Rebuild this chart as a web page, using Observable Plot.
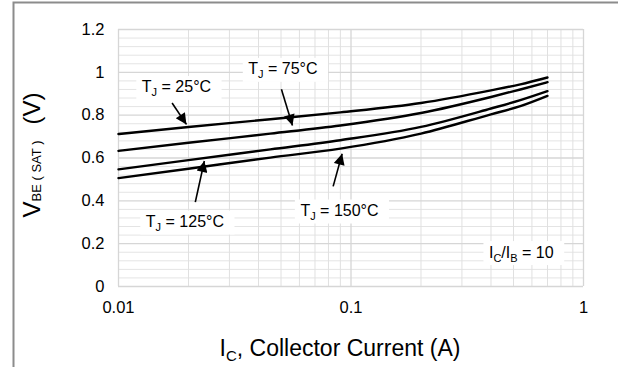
<!DOCTYPE html>
<html><head><meta charset="utf-8">
<script src="https://cdn.jsdelivr.net/npm/d3@7"></script>
<script src="https://cdn.jsdelivr.net/npm/@observablehq/plot@0.6"></script>
<style>
html,body{margin:0;padding:0;background:#fff;}
#chart{position:relative;width:618px;height:367px;overflow:hidden;}
</style></head><body><div id="chart"></div>
<script>
// ---- data ----
const currents = [0.01, 0.02, 0.045, 0.09, 0.2, 0.4, 0.535, 0.7];
const vbe25  = [0.712, 0.745, 0.781, 0.813, 0.857, 0.916, 0.944, 0.976];
const vbe75  = [0.633, 0.671, 0.714, 0.752, 0.810, 0.885, 0.920, 0.954];
const vbe125 = [0.547, 0.590, 0.640, 0.683, 0.745, 0.831, 0.870, 0.912];
const vbe150 = [0.506, 0.550, 0.602, 0.644, 0.714, 0.804, 0.842, 0.890];
const seriesNames = ["25°C", "75°C", "125°C", "150°C"];

const xTicks = [0.01, 0.1, 1];
const xTickLabels = ["0.01", "0.1", "1"];
const xMinor = [0.02, 0.03, 0.04, 0.05, 0.06, 0.07, 0.08, 0.09, 0.2, 0.3, 0.4, 0.5, 0.6, 0.7, 0.8, 0.9];
const yTicks = [0, 0.2, 0.4, 0.6, 0.8, 1, 1.2];
const yTickLabels = ["0", "0.2", "0.4", "0.6", "0.8", "1", "1.2"];
const yMinor = [0.04, 0.08, 0.12, 0.16, 0.24, 0.28, 0.32, 0.36, 0.44, 0.48, 0.52, 0.56, 0.64, 0.68, 0.72, 0.76, 0.84, 0.88, 0.92, 0.96, 1.04, 1.08, 1.12, 1.16];

const labelTexts = ["T_J = 25°C", "T_J = 75°C", "T_J = 125°C", "T_J = 150°C", "I_C/I_B = 10"];
const labelX = [0.01775, 0.05096, 0.0193, 0.0892, 0.540];
const labelY = [0.930, 1.0145, 0.3015, 0.353, 0.159];
const arrowX1 = [0.0170, 0.0502, 0.0214, 0.0838];
const arrowY1 = [0.857, 0.921, 0.394, 0.4675];
const arrowX2 = [0.0196, 0.0560, 0.0234, 0.0916];
const arrowY2 = [0.757, 0.7517, 0.586, 0.620];

const xTitle = ["I", "C", ", Collector Current (A)"];
const yTitle = ["V", "BE ( SAT )", "(V)"];

// ---- build table ----
const seriesValues = [vbe25, vbe75, vbe125, vbe150];
const rows = [];
seriesNames.forEach((s, k) => currents.forEach((c, i) => rows.push({I: c, V: seriesValues[k][i], series: s})));
const arrowIdx = arrowX1.map((_, i) => i);
const labelIdx = labelTexts.map((_, i) => i);

const plot = Plot.plot({
  width: 618, height: 367,
  marginLeft: 118, marginRight: 35, marginTop: 29, marginBottom: 81,
  style: {fontFamily: "'Liberation Sans', Arial, Helvetica, sans-serif", fontSize: "16.5px", background: "white", color: "#000", overflow: "visible"},
  x: {type: "log", domain: [0.01, 1], ticks: xTicks, tickFormat: d => xTickLabels[xTicks.indexOf(d)], tickSize: 0, tickPadding: 15, label: null},
  y: {domain: [0, 1.2], ticks: yTicks, tickFormat: d => yTickLabels[yTicks.indexOf(d)], tickSize: 0, tickPadding: 14, label: null},
  marks: [
    Plot.ruleY(yMinor, {stroke: "#e4e4e4", strokeWidth: 1}),
    Plot.ruleX(xMinor, {stroke: "#e0e0e0", strokeWidth: 1}),
    Plot.ruleY(yTicks, {stroke: "#d6d6d6", strokeWidth: 1.3}),
    Plot.ruleX(xTicks, {stroke: "#d6d6d6", strokeWidth: 1.3}),
    Plot.line(rows, {x: "I", y: "V", z: "series", stroke: "#000", strokeWidth: 2.4, curve: "monotone-x"}),
    Plot.link(arrowIdx, {x1: i => arrowX1[i], y1: i => arrowY1[i], x2: i => arrowX2[i], y2: i => arrowY2[i], stroke: "#000", strokeWidth: 1.6}),
    Plot.text(labelIdx, {x: i => labelX[i], y: i => labelY[i], text: i => labelTexts[i], fontSize: 16, fill: "#000"})
  ]
});
document.getElementById("chart").appendChild(plot);

const svg = d3.select(plot);
// arrowheads
const defs = svg.insert("defs", ":first-child");
defs.append("marker").attr("id", "ah").attr("viewBox", "0 0 10 10")
  .attr("refX", 10).attr("refY", 5).attr("markerWidth", 14).attr("markerHeight", 11)
  .attr("markerUnits", "userSpaceOnUse").attr("orient", "auto")
  .append("path").attr("d", "M0,0L10,5L0,10Z").attr("fill", "#000");
svg.selectAll('g[aria-label="link"] path').attr("marker-end", "url(#ah)");

// subscripts in labels
const textGroup = plot.querySelector('g[aria-label="text"]');
textGroup.querySelectorAll("text").forEach(t => {
  const s = t.textContent;
  t.textContent = "";
  const parts = s.split(/_(\w)/);
  parts.forEach((p, j) => {
    if (!p) return;
    const ts = d3.select(t).append("tspan").text(p);
    if (j % 2 === 1) ts.attr("font-size", 11).attr("dy", 4);
    else if (j > 0) ts.attr("dy", -4);
  });
});
// white boxes behind labels
textGroup.querySelectorAll("text").forEach(t => {
  const b = t.getBBox();
  const tr = t.getAttribute("transform");
  const r = document.createElementNS("http://www.w3.org/2000/svg", "rect");
  r.setAttribute("x", b.x - 5); r.setAttribute("y", b.y - 2);
  r.setAttribute("width", b.width + 16); r.setAttribute("height", b.height + 4);
  r.setAttribute("fill", "#fff");
  if (tr) r.setAttribute("transform", tr);
  textGroup.parentNode.insertBefore(r, plot.querySelector('g[aria-label="line"]'));
});

// axis titles
const xt = svg.append("text").attr("x", 340).attr("y", 356).attr("text-anchor", "middle")
  .attr("font-size", 23).attr("fill", "#000");
xt.append("tspan").text(xTitle[0]);
xt.append("tspan").text(xTitle[1]).attr("font-size", 15).attr("dy", 5);
xt.append("tspan").text(xTitle[2]).attr("dy", -5);

const yt = svg.append("text").attr("transform", "translate(40,155) rotate(-90)").attr("text-anchor", "middle")
  .attr("font-size", 24).attr("fill", "#000");
yt.append("tspan").text(yTitle[0]);
yt.append("tspan").text(yTitle[1]).attr("font-size", 13).attr("dy", 1);
yt.append("tspan").text(yTitle[2]).attr("dy", -1).attr("dx", 16);

// outer frame
svg.append("path").attr("d", "M13.5,367V2.5H618").attr("fill", "none").attr("stroke", "#8c8c8c").attr("stroke-width", 2);
</script>
</body></html>
